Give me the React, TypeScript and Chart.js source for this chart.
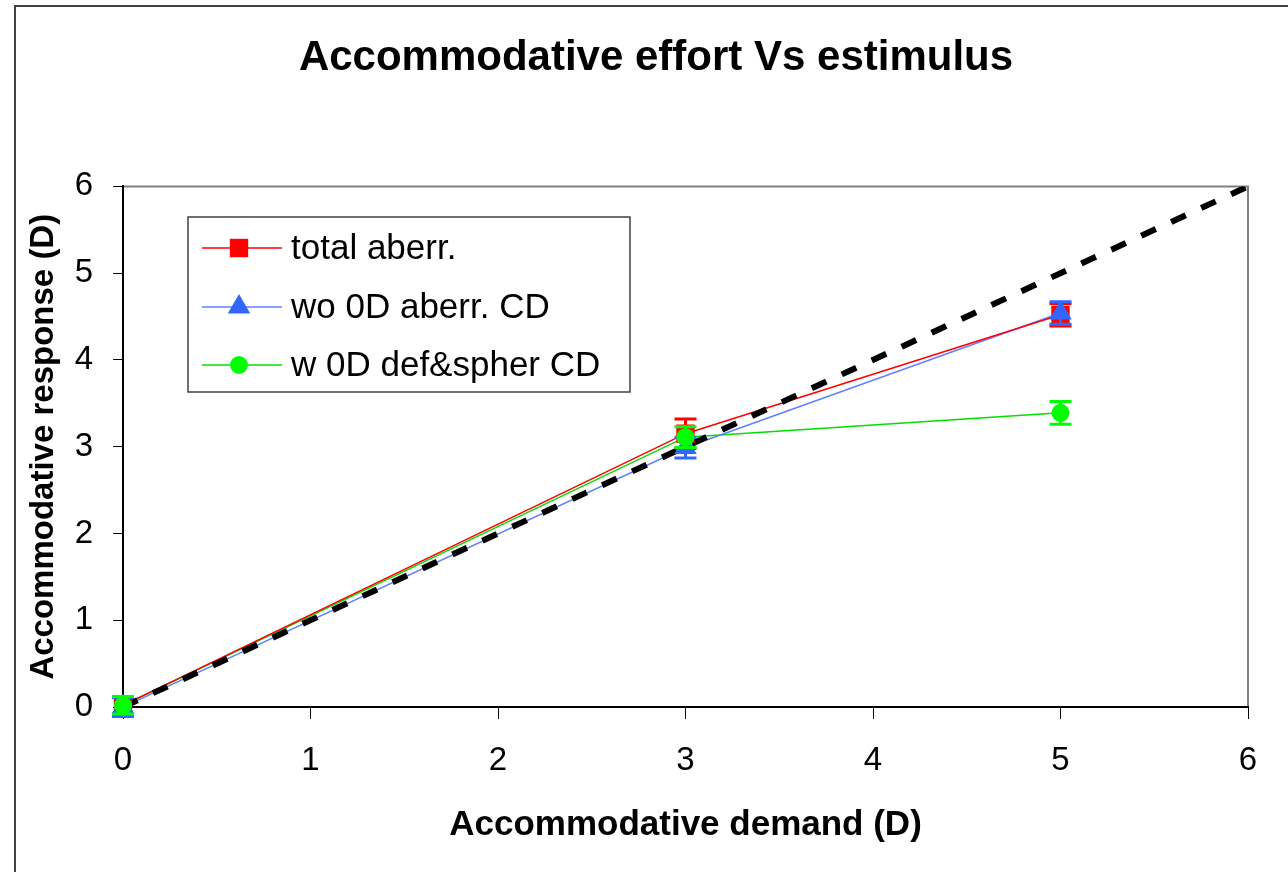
import React, { useEffect, useRef } from "react";
import { Chart, registerables } from "chart.js";

Chart.register(...registerables);

// ---- data ----
const demand = [0, 3, 5];
const totalAberr = [0.02, 3.15, 4.52];
const totalAberrErr = [0.1, 0.17, 0.13];
const wo0DAberr = [0.0, 2.99, 4.54];
const wo0DAberrErr = [0.11, 0.12, 0.13];
const w0DDefSpher = [0.02, 3.11, 3.39];
const w0DDefSpherErr = [0.1, 0.12, 0.13];
const identityX = [0, 6];
const identityY = [0, 6];
const xTickLabels = ["0", "1", "2", "3", "4", "5", "6"];
const yTickLabels = ["0", "1", "2", "3", "4", "5", "6"];
const seriesNames = ["total aberr.", "wo 0D aberr. CD", "w 0D def&spher CD"];
const chartTitle = "Accommodative effort Vs estimulus";
const xTitle = "Accommodative demand (D)";
const yTitle = "Accommodative response (D)";

const FONT = "'Liberation Sans', Arial, sans-serif";
const RED = "#FF0000";
const BLUE = "#3366FF";
const BLUE_LINE = "#6080FF";
const GREEN = "#00FF00";
const GREEN_LINE = "#00E000";

const seriesStyles = [
  { color: RED, line: RED, point: "rect", radius: 13 },
  { color: BLUE, line: BLUE_LINE, point: "triangle", radius: 13 },
  { color: GREEN, line: GREEN_LINE, point: "circle", radius: 9 },
];

const toPts = (xs: number[], ys: number[]) => xs.map((x, i) => ({ x, y: ys[i] }));

function drawMarker(ctx: CanvasRenderingContext2D, style: string, x: number, y: number, r: number, color: string) {
  ctx.save();
  ctx.fillStyle = color;
  ctx.beginPath();
  if (style === "rect") {
    const s = Math.SQRT1_2 * r;
    ctx.rect(x - s, y - s, 2 * s, 2 * s);
  } else if (style === "triangle") {
    const a = (2 * Math.PI) / 3;
    ctx.moveTo(x, y - r);
    ctx.lineTo(x + Math.sin(a) * r, y - Math.cos(a) * r);
    ctx.lineTo(x + Math.sin(2 * a) * r, y - Math.cos(2 * a) * r);
    ctx.closePath();
  } else {
    ctx.arc(x, y, r, 0, Math.PI * 2);
  }
  ctx.fill();
  ctx.restore();
}

const framePlugin = {
  id: "frame",
  beforeDraw(chart: any) {
    const { ctx, chartArea } = chart;
    ctx.save();
    ctx.fillStyle = "#FFFFFF";
    ctx.fillRect(0, 0, chart.width, chart.height);
    ctx.strokeStyle = "#404040";
    ctx.lineWidth = 2;
    ctx.strokeRect(15, 6, chart.width + 20, chart.height + 20);
    ctx.strokeStyle = "#808080";
    ctx.lineWidth = 2;
    ctx.beginPath();
    ctx.moveTo(chartArea.left, chartArea.top);
    ctx.lineTo(chartArea.right, chartArea.top);
    ctx.lineTo(chartArea.right, chartArea.bottom);
    ctx.stroke();
    ctx.restore();
  },
};

const errorBarPlugin = {
  id: "errorBars",
  beforeDatasetDraw(chart: any, args: any) {
    const ds = chart.data.datasets[args.index];
    if (!ds.errorBars) return;
    const { ctx } = chart;
    const xs = chart.scales.x;
    const ys = chart.scales.y;
    ctx.save();
    ctx.strokeStyle = ds.pointBackgroundColor;
    ctx.lineWidth = 3;
    ds.data.forEach((p: any, i: number) => {
      const e = ds.errorBars[i];
      const px = xs.getPixelForValue(p.x);
      const top = ys.getPixelForValue(p.y + e);
      const bot = ys.getPixelForValue(p.y - e);
      ctx.beginPath();
      ctx.moveTo(px, top);
      ctx.lineTo(px, bot);
      ctx.moveTo(px - 11, top);
      ctx.lineTo(px + 11, top);
      ctx.moveTo(px - 11, bot);
      ctx.lineTo(px + 11, bot);
      ctx.stroke();
    });
    ctx.restore();
  },
};

const legendPlugin = {
  id: "boxLegend",
  afterDraw(chart: any) {
    const { ctx } = chart;
    const left = 188, top = 217, right = 630, bottom = 392;
    ctx.save();
    ctx.fillStyle = "#FFFFFF";
    ctx.fillRect(left, top, right - left, bottom - top);
    ctx.strokeStyle = "#404040";
    ctx.lineWidth = 1.5;
    ctx.strokeRect(left, top, right - left, bottom - top);
    const rowsY = [248, 307, 365];
    seriesNames.forEach((name, i) => {
      const st = seriesStyles[i];
      const y = rowsY[i];
      ctx.strokeStyle = st.line;
      ctx.lineWidth = 1.5;
      ctx.beginPath();
      ctx.moveTo(202, y);
      ctx.lineTo(282, y);
      ctx.stroke();
      drawMarker(ctx, st.point, 239, y, st.radius, st.color);
      ctx.fillStyle = "#000000";
      ctx.font = `35px ${FONT}`;
      ctx.textBaseline = "middle";
      ctx.textAlign = "left";
      ctx.fillText(name, 291, y + 1);
    });
    ctx.restore();
  },
};

export default function App() {
  const ref = useRef<HTMLCanvasElement>(null);

  useEffect(() => {
    if (!ref.current) return;
    const seriesValues = [totalAberr, wo0DAberr, w0DDefSpher];
    const seriesErrs = [totalAberrErr, wo0DAberrErr, w0DDefSpherErr];

    const lineSets = seriesValues.map((vals, i) => ({
      label: seriesNames[i] + " line",
      data: toPts(demand, vals),
      showLine: true,
      borderColor: seriesStyles[i].line,
      borderWidth: 1.5,
      pointRadius: 0,
      order: 10,
    }));
    const identitySet = {
      label: "1:1",
      data: toPts(identityX, identityY),
      showLine: true,
      borderColor: "#000000",
      borderWidth: 6,
      borderDash: [16, 17],
      borderCapStyle: "butt",
      pointRadius: 0,
      order: 9,
    };
    const pointSets = seriesValues.map((vals, i) => ({
      label: seriesNames[i],
      data: toPts(demand, vals),
      showLine: false,
      clip: false,
      pointStyle: seriesStyles[i].point,
      pointRadius: seriesStyles[i].radius,
      pointBackgroundColor: seriesStyles[i].color,
      pointBorderColor: seriesStyles[i].color,
      pointBorderWidth: 0,
      errorBars: seriesErrs[i],
      order: 3 - i,
    }));

    const chart = new Chart(ref.current, {
      type: "scatter",
      data: { datasets: [...lineSets, identitySet, ...pointSets] as any },
      plugins: [framePlugin, errorBarPlugin, legendPlugin],
      options: {
        animation: false,
        responsive: false,
        events: [],
        layout: { padding: { left: 24, right: 0, top: 0, bottom: 0 } },
        plugins: {
          legend: { display: false },
          tooltip: { enabled: false },
          title: {
            display: true,
            text: chartTitle,
            color: "#000000",
            font: { family: FONT, size: 42, weight: "bold" },
            padding: { top: 33, bottom: 103 },
          },
        },
        scales: {
          x: {
            type: "linear",
            min: 0,
            max: 6,
            afterFit: (s: any) => { s.height = 165; },
            ticks: {
              stepSize: 1,
              color: "#000000",
              padding: 22,
              font: { family: FONT, size: 33 },
              callback: (v: any) => xTickLabels[Math.round(Number(v))] ?? "",
            },
            grid: { display: true, drawOnChartArea: false, drawTicks: true, tickLength: 12, color: "#000000", lineWidth: 1 },
            border: { display: true, color: "#000000", width: 2 },
            title: {
              display: true,
              text: xTitle,
              color: "#000000",
              font: { family: FONT, size: 35, weight: "bold" },
              padding: { top: 0, bottom: 26 },
            },
          },
          y: {
            type: "linear",
            min: 0,
            max: 6,
            afterFit: (s: any) => { s.width = 99; },
            ticks: {
              stepSize: 1,
              color: "#000000",
              padding: 20,
              font: { family: FONT, size: 33 },
              callback: (v: any) => yTickLabels[Math.round(Number(v))] ?? "",
            },
            grid: { display: true, drawOnChartArea: false, drawTicks: true, tickLength: 10, color: "#000000", lineWidth: 1 },
            border: { display: true, color: "#000000", width: 2 },
            title: {
              display: true,
              text: yTitle,
              color: "#000000",
              font: { family: FONT, size: 33, weight: "bold" },
              padding: { top: 0, bottom: 0 },
            },
          },
          rightSpace: {
            type: "linear",
            position: "right",
            axis: "y",
            display: true,
            afterFit: (s: any) => { s.width = 40; },
            ticks: { display: false },
            grid: { display: false },
            border: { display: false },
          },
        },
      } as any,
    });
    return () => chart.destroy();
  }, []);

  return (
    <div style={{ position: "fixed", left: 0, top: 0, width: 1288, height: 872, background: "#fff" }}>
      <canvas ref={ref} width={1288} height={872} style={{ display: "block" }} />
    </div>
  );
}
